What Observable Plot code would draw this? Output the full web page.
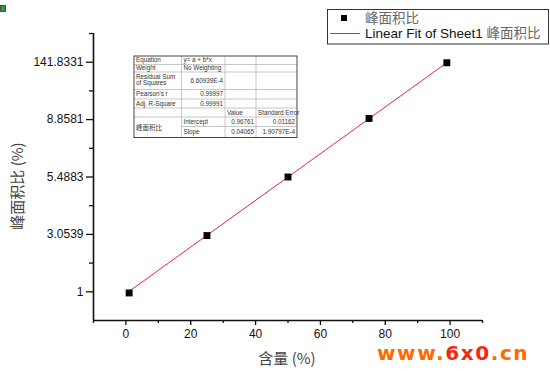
<!DOCTYPE html>
<html>
<head>
<meta charset="utf-8">
<script src="https://cdn.jsdelivr.net/npm/d3@7"></script>
<script src="https://cdn.jsdelivr.net/npm/@observablehq/plot@0.6"></script>
<style>
  html, body { margin: 0; padding: 0; background: #fff; }
  #chart { position: relative; width: 550px; height: 374px; }
</style>
</head>
<body>
<div id="chart"></div>
<script>
// ---- data ----
const contents = [1, 25, 50, 75, 99];              // 含量 (%)
const ratios = [0.98, 1.98, 3.0, 4.02, 4.99];      // 峰面积比 (plotted position)
const xTicks = [0, 20, 40, 60, 80, 100];
const xMinorTicks = [-10, 10, 30, 50, 70, 90, 110];
const yTicks = [1, 2, 3, 4, 5];
const yTickLabels = ["1", "3.0539", "5.4883", "8.8581", "141.8331"];
const yMinorTicks = [1.5, 2.5, 3.5, 4.5, 5.5];
const fitIntercept = 0.96761;
const fitSlope = 0.04065;
const fitRange = [1, 99];
const seriesName = "峰面积比";
const fitName = "Linear Fit of Sheet1 ";
const xLabel = "含量 (%)";
const yLabel = "峰面积比 (%)";
const watermark = ["www.", "6x0", ".cn"];
// fit statistics table rows: [col1, col2, col3, col4]
const tableRows = [
  ["Equation", "y= a + b*x", "", ""],
  ["Weight", "No Weighting", "", ""],
  ["Residual Sum|of Squares", "6.60939E-4", "", ""],
  ["Pearson's r", "0.99997", "", ""],
  ["Adj. R-Square", "0.99991", "", ""],
  ["", "", "Value", "Standard Error"],
  ["", "Intercept", "0.96761", "0.01162"],
  ["", "Slope", "0.04065", "1.90797E-4"]
];

const fitData = fitRange.map(x => ({x, y: fitIntercept + fitSlope * x}));
const pts = contents.map((x, i) => ({x, y: ratios[i]}));

const W = 550, H = 374;
const blank = () => "";
const plot = Plot.plot({
  width: W, height: H,
  marginLeft: 93, marginRight: 68, marginTop: 33, marginBottom: 54,
  x: {domain: [-10, 110]},
  y: {domain: [0.5, 5.5]},
  style: {fontFamily: "'Liberation Sans', Arial, sans-serif", color: "#111", background: "#fff"},
  marks: [
    Plot.axisX(xTicks, {tickSize: 5, tickPadding: 4, fontSize: 12, label: null, strokeWidth: 1.3}),
    Plot.axisX(xMinorTicks, {tickSize: 3, tickFormat: blank, label: null, strokeWidth: 1.3}),
    Plot.axisY(yTicks, {tickSize: 7, tickPadding: 3, fontSize: 12, label: null, strokeWidth: 1.3,
      tickFormat: d => yTickLabels[yTicks.indexOf(d)]}),
    Plot.axisY(yMinorTicks, {tickSize: 4, tickFormat: blank, label: null, strokeWidth: 1.3}),
    Plot.ruleY([0.5], {stroke: "#111", strokeWidth: 1.6}),
    Plot.ruleX([-10], {stroke: "#111", strokeWidth: 1.6}),
    Plot.line(fitData, {x: "x", y: "y", stroke: "#e8283c", strokeWidth: 1}),
    Plot.dot(pts, {x: "x", y: "y", symbol: "square", r: 3.9, fill: "#000", stroke: "none"})
  ]
});
document.getElementById("chart").appendChild(plot);

const svg = d3.select(plot);
const cjk = "'Noto Sans CJK SC', sans-serif";
const latin = "'Liberation Sans', Arial, sans-serif";

// small icon top-left
svg.append("rect").attr("x", 0.5).attr("y", 5.5).attr("width", 5).attr("height", 6)
  .attr("fill", "#2a9a3a").attr("stroke", "#333").attr("stroke-width", 0.8);

// axis titles
svg.append("text").attr("x", 287).attr("y", 364).attr("text-anchor", "middle")
  .attr("font-family", cjk).attr("font-size", 15).attr("fill", "#444").text(xLabel);
svg.append("text").attr("transform", "translate(23,186) rotate(-90)").attr("text-anchor", "middle")
  .attr("font-family", cjk).attr("font-size", 15).attr("fill", "#444").text(yLabel);

// legend
const lg = svg.append("g").attr("text-anchor", "start");
lg.append("rect").attr("x", 327.5).attr("y", 9.5).attr("width", 221).attr("height", 34.5)
  .attr("fill", "#fff").attr("stroke", "#333").attr("stroke-width", 1);
lg.append("rect").attr("x", 341).attr("y", 15).attr("width", 6).attr("height", 6).attr("fill", "#000");
lg.append("text").attr("x", 365).attr("y", 23).attr("font-family", cjk).attr("font-size", 13.5)
  .attr("fill", "#666").text(seriesName);
lg.append("line").attr("x1", 330).attr("x2", 360).attr("y1", 33.5).attr("y2", 33.5)
  .attr("stroke", "#e8283c").attr("stroke-width", 1);
const lt = lg.append("text").attr("x", 365).attr("y", 38).attr("font-size", 13.5);
lt.append("tspan").attr("font-family", latin).attr("fill", "#111").text(fitName);
lt.append("tspan").attr("font-family", cjk).attr("fill", "#666").text(seriesName);

// fit table
const colX = [134, 181.5, 225, 256, 297];
const rowY = [56, 64.5, 72, 89.5, 99, 108, 117, 126.5, 137.5];
const tg = svg.append("g").attr("font-family", latin).attr("font-size", 6.3).attr("fill", "#333")
  .attr("text-anchor", "start");
tg.append("rect").attr("x", colX[0]).attr("y", rowY[0]).attr("width", colX[4] - colX[0])
  .attr("height", rowY[8] - rowY[0]).attr("fill", "#fff").attr("stroke", "none");
rowY.slice(1, -1).forEach((y, i) => {
  const x1 = (i === 6) ? colX[1] : colX[0];
  tg.append("line").attr("x1", x1).attr("x2", colX[4]).attr("y1", y).attr("y2", y)
    .attr("stroke", "#b8b8b8").attr("stroke-width", 0.8);
});
colX.slice(1, -1).forEach(x => {
  tg.append("line").attr("x1", x).attr("x2", x).attr("y1", rowY[0]).attr("y2", rowY[8])
    .attr("stroke", "#b8b8b8").attr("stroke-width", 0.8);
});
tg.append("rect").attr("x", colX[0]).attr("y", rowY[0]).attr("width", colX[4] - colX[0])
  .attr("height", rowY[8] - rowY[0]).attr("fill", "none").attr("stroke", "#444").attr("stroke-width", 1);
tableRows.forEach((row, r) => {
  const yTop = rowY[r], yBot = rowY[r + 1];
  const yMid = (yTop + yBot) / 2 + 2.2;
  row.forEach((cell, c) => {
    if (!cell) return;
    const rightAlign = (c === 1 && r >= 2 && r <= 4) || (c >= 2 && r >= 6);
    const x = rightAlign ? colX[c + 1] - 2 : colX[c] + 2;
    const t = tg.append("text").attr("x", x).attr("text-anchor", rightAlign ? "end" : "start");
    const lines = cell.split("|");
    if (lines.length > 1) {
      lines.forEach((ln, k) => t.append("tspan").attr("x", x).attr("y", yTop + 7 + k * 6).text(ln));
    } else {
      t.attr("y", yMid).text(cell);
    }
  });
});
tg.append("text").attr("x", colX[0] + 2).attr("y", (rowY[6] + rowY[8]) / 2 + 2.3)
  .attr("font-family", cjk).attr("font-size", 6.5).text(seriesName);

// watermark
const wm = svg.append("text").attr("x", 377).attr("y", 360).attr("text-anchor", "start")
  .attr("font-family", "'DejaVu Sans', sans-serif").attr("font-weight", "bold").attr("font-size", 20)
  .attr("letter-spacing", 1.6);
wm.append("tspan").attr("fill", "#ff6a00").text(watermark[0]);
wm.append("tspan").attr("fill", "#f02a10").text(watermark[1]);
wm.append("tspan").attr("fill", "#ff6a00").text(watermark[2]);
</script>
</body>
</html>
